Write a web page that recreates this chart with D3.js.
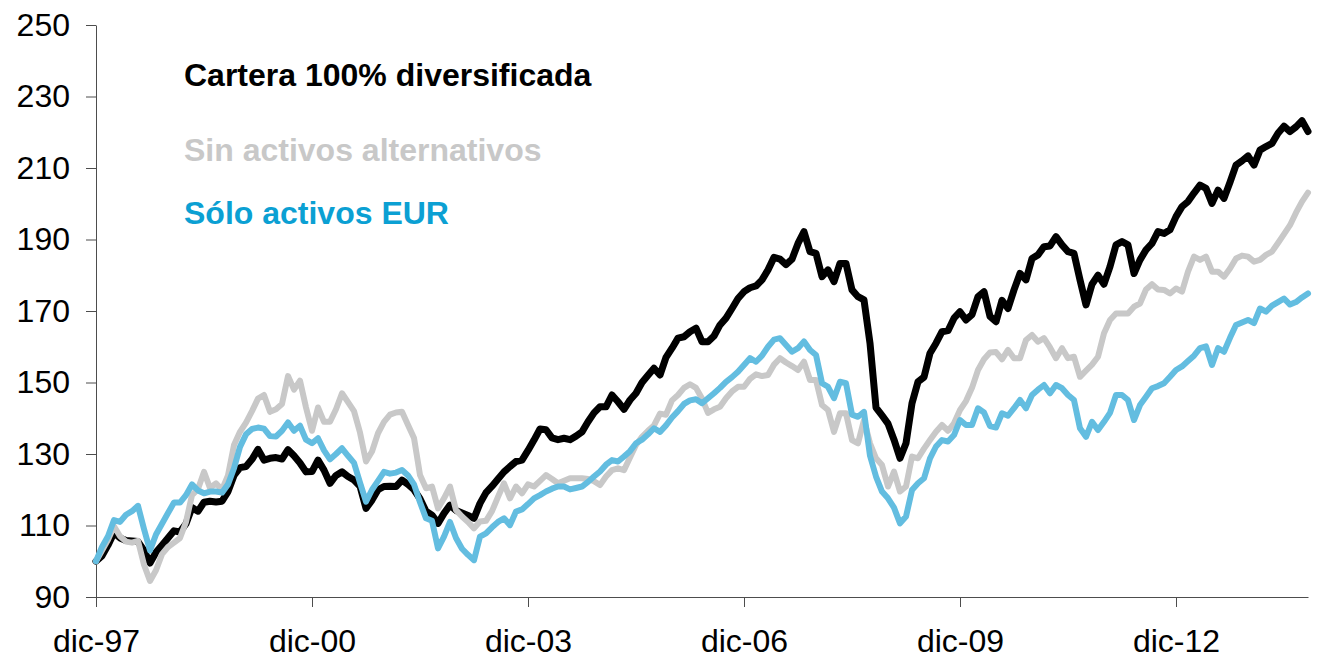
<!DOCTYPE html>
<html>
<head>
<meta charset="utf-8">
<script src="https://cdn.jsdelivr.net/npm/d3@7"></script>
<style>
  body { margin: 0; background: #fff; }
  svg { display: block; font-family: "Liberation Sans", Arial, sans-serif; }
</style>
</head>
<body>
<div id="chart"></div>
<script>
// monthly values, dic-97 .. oct-14 (index 100 = dic-97)
var cartera = [
  100, 101.5, 104.5, 108, 106.5, 105.8, 105.7, 105.5, 103, 99.5,
  102.5, 104.5, 106.5, 108.5, 108.2, 110.5, 115, 114, 116.5, 116.8,
  116.6, 116.8, 119.5, 124, 126.2, 126.5, 128.5, 131.3, 128.3, 128.8,
  129, 128.6, 131.2, 129.5, 127.5, 125, 125.1, 128.3, 125.5, 121.8,
  124, 125, 123.7, 122.7, 121, 114.8, 117.1, 120, 120.9, 121,
  120.9, 122.7, 121.5, 120, 117.5, 114, 112.9, 110.6, 113.4, 115.7,
  114.2, 113.5, 112.8, 112, 116.2, 119.2, 121, 123, 125, 126.5,
  127.9, 128.3, 131, 133.9, 137, 136.8, 134.5, 134, 134.4, 134,
  135, 136.2, 139, 141.5, 143.2, 143.2, 146.5, 144.6, 142.5, 145.1,
  147, 150, 152, 154, 152.1, 157, 159.6, 162.4, 162.8, 164.2,
  165.2, 161.4, 161.4, 163, 166.1, 168, 170.7, 173.5, 175.4, 176.5,
  177, 178.7, 181.5, 185, 184.5, 183, 184.5, 188.9, 192.2, 186.6,
  186.1, 179.6, 181.5, 178.2, 183.3, 183.3, 175.9, 174, 173.1, 161,
  143, 140.8, 138.5, 134, 128.8, 133, 144.2, 150.2, 151.5, 158.2,
  161, 164.2, 164.5, 168, 169.8, 167.5, 169, 174, 175.4, 168.5,
  167, 173, 170.7, 175.9, 180.5, 178.7, 184.7, 185.7, 188, 188.2,
  190.8, 188.5, 186.6, 186.1, 178.7, 171.7, 177.5, 180, 177.5, 182.4,
  188.5, 189.4, 188.5, 180.5, 184.3, 187.1, 188.9, 192.2, 191.7, 192.7,
  196.4, 199.2, 200.6, 203, 205.2, 204.3, 200.1, 203.8, 201.5, 206,
  210.8, 212, 213.4, 210.8, 215, 216, 216.9, 219.7, 221.7, 220.2,
  221.5, 223.2, 220.2
];
var sinAlternativos = [
  100, 103, 106, 109.8, 107, 105.5, 105.2, 105.7, 99, 94.5,
  97.5, 102, 104, 105.2, 106.5, 111, 118.5, 120.2, 125, 120.5,
  121.8, 120, 124, 132.5, 136.2, 138.8, 142, 145.5, 146.5, 141.8,
  142.5, 144, 151.8, 148, 150.5, 143, 136.5, 143, 139, 139,
  142.5, 147, 144.5, 142, 136, 127.9, 130.7, 135.8, 139, 141,
  141.6, 141.8, 138.1, 134.5, 124.1, 120.4, 120.9, 114.8, 117.6, 120.9,
  114.3, 112.5, 111, 109.2, 111.1, 111.3, 114, 118, 121.8, 117.6,
  120.9, 119, 121.5, 120.9, 122.5, 124.1, 123, 121.8, 122.5, 123.2,
  123.2, 123.2, 123, 122.4, 121.3, 123.7, 125.5, 126, 125.5, 129,
  132.5, 134.8, 136.5, 138, 141.3, 141, 145, 146.5, 148.5, 149.5,
  148.5, 145.5, 141.5, 142.5, 143.2, 145.6, 147.5, 148.8, 148.8, 151,
  152.3, 151.8, 152.1, 155, 156.8, 155.6, 154.6, 153.5, 155.8, 150.7,
  150.7, 143.7, 142.3, 136.2, 141.4, 141.4, 133.9, 133, 139.5, 133,
  128.8, 126.9, 120.9, 125.1, 119.5, 120.9, 129.3, 128.8, 131.5, 133.9,
  136.2, 138.1, 136.5, 138.6, 142.3, 144.8, 148.5, 153.5, 156.5, 158.4,
  158.5, 156.5, 159.1, 156.8, 156.8, 161.9, 163.3, 161.4, 162.4, 159.8,
  156.8, 159.6, 156.8, 157.2, 151.6, 153.3, 155, 157.2, 163.8, 167.5,
  169.3, 169.3, 169.3, 171.2, 172.1, 176, 177.5, 176, 175.9, 174.9,
  176.3, 175.4, 181, 185.2, 184.3, 185.2, 181, 181, 179.6, 181.9,
  184.7, 185.5, 185.2, 183.8, 184.3, 185.7, 186.6, 189, 191.5, 194,
  197.5, 200.6, 203.1
];
var soloEur = [
  100, 104, 107, 111.5, 111, 113, 114, 115.5, 109, 103,
  107.5, 110.5, 113.5, 116.4, 116.4, 118.5, 121.5, 119.8, 119, 119.5,
  119.5, 119.2, 121.5, 126, 132, 135.5, 137, 137.4, 137.1, 135,
  134.9, 136.5, 138.8, 136.5, 137.9, 134, 133, 134.4, 131, 128.5,
  130, 131.6, 129.5, 127.5, 122, 116.7, 120, 122.5, 125, 124.5,
  124.8, 125.5, 124, 121.5, 116.5, 112, 111.3, 103.6, 106.9, 111,
  106.5, 103.5, 101.8, 100.3, 106.9, 107.8, 109.5, 111, 112, 110.1,
  113.9, 114.5, 116, 117.6, 118.5, 119.5, 120.3, 120.9, 120.9, 120.1,
  120.5, 120.9, 122.2, 123.7, 125.1, 127, 128.3, 127.9, 129.3, 130.8,
  133, 134, 135.5, 137.2, 136.2, 138, 140.2, 142, 144, 145,
  145.3, 144.2, 145.6, 147, 148.5, 150.2, 151.5, 153, 154.9, 156.8,
  155.8, 157.5, 160, 162, 162.4, 160.5, 158.6, 159.6, 161.5, 159.1,
  157.7, 149.8, 148.8, 145.6, 150.2, 149.8, 141, 140.4, 141.8, 129.5,
  123.7, 119.5, 117.6, 115, 110.6, 112.5, 119.9, 121.8, 123.2, 128.8,
  132.1, 133.9, 133.5, 135.3, 139.5, 138.1, 138.1, 142.8, 141.6, 137.8,
  137.4, 141.4, 140.7, 142.8, 145.1, 142.8, 146.5, 148, 149.3, 147,
  149.3, 148.4, 146.5, 145.1, 137.2, 134.8, 139, 136.7, 139, 141.5,
  146.5, 146.5, 145.1, 139.5, 143.7, 146, 148.4, 149, 149.8, 151.6,
  153.5, 154.5, 156, 157.5, 159.6, 160.1, 154.9, 159.6, 158.6, 162.5,
  166.1, 166.8, 167.5, 166.6, 170.7, 169.8, 171.5, 172.5, 173.5, 171.8,
  172.5, 173.8, 174.9
];

var seriesNames = ["Cartera 100% diversificada", "Sin activos alternativos", "Sólo activos EUR"];
var tickIndex = [0, 36, 72, 108, 144, 180];
var tickLabels = ["dic-97", "dic-00", "dic-03", "dic-06", "dic-09", "dic-12"];
var yTicks = [90, 110, 130, 150, 170, 190, 210, 230, 250];

var width = 1332, height = 659;

var svg = d3.select("#chart")
  .append("svg")
  .attr("width", width)
  .attr("height", height);

var x = d3.scaleLinear()
  .domain([0, cartera.length - 1])
  .range([96, 1308]);

var y = d3.scaleLinear()
  .domain([90, 250])
  .range([597, 25]);

// Y axis
var yAxis = svg.append("g")
  .attr("transform", "translate(96,0)")
  .call(d3.axisLeft(y).tickValues(yTicks).tickSize(10).tickPadding(16).tickSizeOuter(0));

// X axis (labels a bit higher so they stay inside the picture)
var xAxis = svg.append("g")
  .attr("transform", "translate(0,597)")
  .call(d3.axisBottom(x)
    .tickValues(tickIndex)
    .tickFormat(function (d, i) { return tickLabels[i]; })
    .tickSize(10)
    .tickPadding(22)
    .tickSizeOuter(0));

[yAxis, xAxis].forEach(function (a) {
  a.select(".domain").attr("stroke", "#4d4d4d");
  a.selectAll(".tick line").attr("stroke", "#4d4d4d");
  a.selectAll("text")
    .attr("fill", "#000")
    .style("font-size", "32px")
    .style("font-family", "'Liberation Sans', Arial, sans-serif");
});

// lines: black first, then gray, blue on top
var line = d3.line()
  .x(function (d, i) { return x(i); })
  .y(function (d) { return y(d); });

var series = [
  { values: cartera, color: "#000000", width: 7 },
  { values: sinAlternativos, color: "#c8c8c8", width: 6 },
  { values: soloEur, color: "#63bde0", width: 6 }
];

svg.append("g")
  .selectAll("path")
  .data(series)
  .join("path")
  .attr("d", function (d) { return line(d.values); })
  .attr("fill", "none")
  .attr("stroke", function (d) { return d.color; })
  .attr("stroke-width", function (d) { return d.width; })
  .attr("stroke-linejoin", "round")
  .attr("stroke-linecap", "round");

// legend texts
var legendColors = ["#000000", "#c8c8c8", "#0ba0d3"];
var legendY = [86, 161, 224];

svg.append("g")
  .selectAll("text")
  .data(seriesNames)
  .join("text")
  .attr("x", 184)
  .attr("y", function (d, i) { return legendY[i]; })
  .attr("fill", function (d, i) { return legendColors[i]; })
  .style("font-size", "32px")
  .style("font-weight", "bold")
  .text(function (d) { return d; });
</script>
</body>
</html>
